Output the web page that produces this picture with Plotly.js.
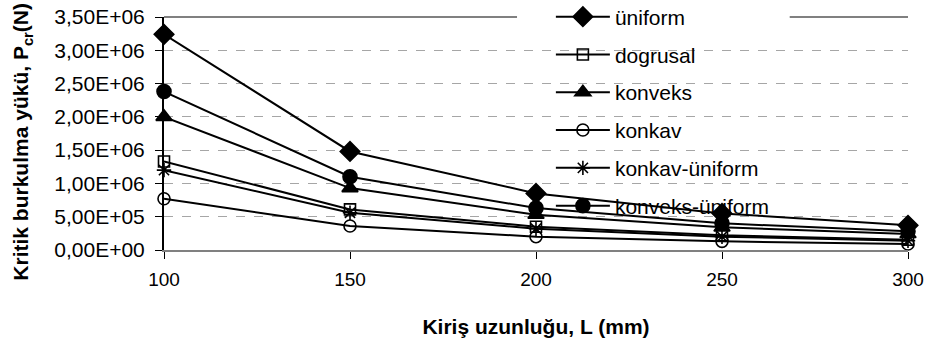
<!DOCTYPE html>
<html>
<head>
<meta charset="utf-8">
<script src="https://cdn.plot.ly/plotly-3.0.1.min.js"></script>
<style>html,body{margin:0;padding:0;background:#fff}#chart{width:928px;height:351px}</style>
</head>
<body>
<div id="chart"></div>
<script>
const lengths = [100, 150, 200, 250, 300];
const uniform = [3.24e6, 1.48e6, 0.85e6, 0.55e6, 0.37e6];
const dogrusal = [1.33e6, 0.61e6, 0.35e6, 0.22e6, 0.155e6];
const konveks = [2.0e6, 0.93e6, 0.53e6, 0.34e6, 0.24e6];
const konkav = [0.77e6, 0.36e6, 0.20e6, 0.13e6, 0.09e6];
const konkavUniform = [1.20e6, 0.56e6, 0.32e6, 0.20e6, 0.14e6];
const konveksUniform = [2.38e6, 1.10e6, 0.63e6, 0.40e6, 0.28e6];
const yTickVals = [0, 5e5, 1e6, 1.5e6, 2e6, 2.5e6, 3e6, 3.5e6];
const yTickText = ["0,00E+00","5,00E+05","1,00E+06","1,50E+06","2,00E+06","2,50E+06","3,00E+06","3,50E+06"];
const xTickVals = [100, 150, 200, 250, 300];
const xTitle = 'Kiriş uzunluğu, L (mm)';
const yTitle = 'Kritik burkulma yükü, P<sub>cr</sub>(N)';

function tr(name, y, symbol, size) {
  return {
    x: lengths, y: y, name: name, type: 'scatter', mode: 'lines+markers',
    legendgroup: name, cliponaxis: false,
    line: {color: '#000', width: 2},
    marker: {symbol: symbol, size: size, color: '#000', line: {color: '#000', width: 1.6}}
  };
}
const data = [
  tr('üniform', uniform, 'diamond', 15),
  tr('dogrusal', dogrusal, 'square-open', 11),
  tr('konveks', konveks, 'triangle-up', 14),
  tr('konkav', konkav, 'circle-open', 12),
  tr('konkav-üniform', konkavUniform, 'asterisk-open', 12),
  tr('konveks-üniform', konveksUniform, 'circle', 14)
];
const fam = 'Liberation Sans, Arial, sans-serif';
const layout = {
  width: 928, height: 351,
  margin: {l: 164, r: 20, t: 17, b: 101, autoexpand: false},
  paper_bgcolor: '#fff', plot_bgcolor: '#fff',
  font: {family: fam, size: 20, color: '#000'},
  showlegend: true,
  legend: {
    x: 0.52, xanchor: 'left', y: 1.088, yanchor: 'top',
    bgcolor: 'rgba(0,0,0,0)', borderwidth: 0,
    font: {family: fam, size: 21, color: '#000'},
    tracegroupgap: 7.5, itemwidth: 54, maxheight: 400
  },
  xaxis: {
    range: [100, 300], tickvals: xTickVals, ticktext: xTickVals.map(String),
    tickfont: {family: fam, size: 19, color: '#000'},
    showgrid: false, zeroline: false, showline: true, linecolor: '#808080', linewidth: 2,
    ticks: 'outside', ticklen: 7, tickcolor: '#000', tickwidth: 1,
    ticklabelstandoff: 4,
    title: {text: '<b>' + xTitle + '</b>', font: {family: fam, size: 21, color: '#000'}, standoff: 31}
  },
  yaxis: {
    range: [0, 3.5e6], tickvals: yTickVals, ticktext: yTickText,
    tickfont: {family: fam, size: 21, color: '#000'},
    showgrid: true, gridcolor: '#a6a6a6', griddash: 'dash', gridwidth: 1,
    zeroline: false, showline: true, linecolor: '#000', linewidth: 2,
    ticks: 'outside', ticklen: 7, tickcolor: '#000', tickwidth: 1,
    ticklabelstandoff: 6
  },
  annotations: [
    {text: '<b>' + yTitle + '</b>', textangle: -90, xref: 'paper', yref: 'paper',
     x: 0, y: 0.465, xanchor: 'center', yanchor: 'middle', xshift: -142, showarrow: false,
     font: {family: fam, size: 21, color: '#000'}}
  ],
  shapes: [
    {type: 'line', layer: 'between', xref: 'paper', yref: 'paper', x0: 0, x1: 1, y0: 1, y1: 1,
     line: {color: '#808080', width: 2}},
    {type: 'rect', layer: 'between', xref: 'paper', yref: 'paper', x0: 0.4745, x1: 0.841, y0: 0.17, y1: 1.08,
     fillcolor: '#fff', line: {width: 0}}
  ]
};
Plotly.newPlot('chart', data, layout, {displayModeBar: false, staticPlot: true});
</script>
</body>
</html>
